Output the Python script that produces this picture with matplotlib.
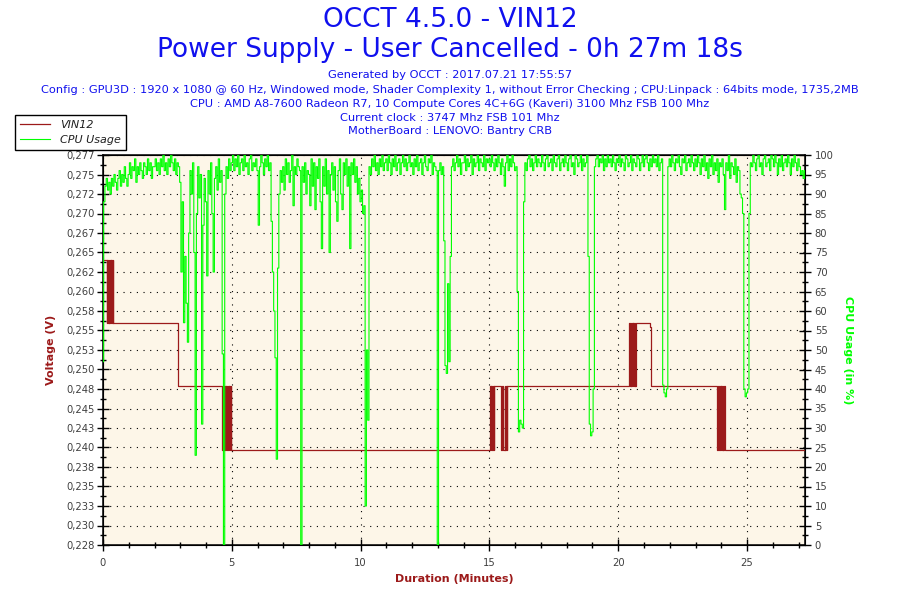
import numpy as np
import matplotlib
matplotlib.use("Agg")
from matplotlib import pyplot as plt
from matplotlib.ticker import FixedLocator, MultipleLocator, FuncFormatter

# header texts
title_main = "OCCT 4.5.0 - VIN12"
title_sub = "Power Supply - User Cancelled - 0h 27m 18s"
info_lines = [
    "Generated by OCCT : 2017.07.21 17:55:57",
    "Config : GPU3D : 1920 x 1080 @ 60 Hz, Windowed mode, Shader Complexity 1, without Error Checking ; CPU:Linpack : 64bits mode, 1735,2MB",
    "CPU : AMD A8-7600 Radeon R7, 10 Compute Cores 4C+6G (Kaveri) 3100 Mhz FSB 100 Mhz",
    "Current clock : 3747 Mhz FSB 101 Mhz",
    "MotherBoard : LENOVO: Bantry CRB",
]

# VIN12 readings (minutes, volts), held until the next change
vin_time = [0.05, 0.14, 0.16, 0.20, 0.22, 0.25, 0.27, 0.30, 0.32, 0.35, 0.37, 0.40,
            2.91,
            4.63, 4.65, 4.70, 4.72, 4.76, 4.78, 4.82, 4.84, 4.88, 4.90, 4.93, 4.95, 4.98,
            15.03, 15.06, 15.08, 15.11, 15.13, 15.16, 15.18,
            15.44, 15.50, 15.52, 15.60, 15.62, 15.66, 15.68, 15.70,
            20.43, 20.45, 20.48, 20.50, 20.53, 20.56, 20.59, 20.62, 20.65, 20.67, 20.70,
            21.22, 21.26,
            23.84, 23.86, 23.93, 23.95, 23.98, 24.00, 24.03, 24.05, 24.08, 24.10, 24.13,
            27.25]
vin_volts = [0.264, 0.256, 0.264, 0.256, 0.264, 0.256, 0.264, 0.256, 0.264, 0.256, 0.264, 0.256,
             0.248,
             0.240, 0.248, 0.240, 0.248, 0.240, 0.248, 0.240, 0.248, 0.240, 0.248, 0.240, 0.248, 0.240,
             0.248, 0.240, 0.248, 0.240, 0.248, 0.240, 0.248,
             0.240, 0.248, 0.240, 0.248, 0.240, 0.248, 0.240, 0.248,
             0.256, 0.248, 0.256, 0.248, 0.256, 0.248, 0.256, 0.248, 0.256, 0.248, 0.256,
             0.2555, 0.248,
             0.240, 0.248, 0.240, 0.248, 0.240, 0.248, 0.240, 0.248, 0.240, 0.248, 0.240,
             0.240]

# CPU usage (%), one reading every 0.05 minute, each row = one minute
cpu_step = 0.05
cpu_usage = [
    47, 88, 92, 94, 91, 93, 90, 94, 92, 95, 93, 91, 94, 96, 92, 95, 93, 97, 94, 92,
    95, 98, 94, 97, 96, 99, 93, 97, 95, 98, 96, 94, 98, 97, 95, 99, 96, 98, 94, 97,
    97, 99, 96, 98, 95, 99, 97, 100, 96, 98, 95, 99, 97, 100, 98, 96, 99, 95, 98, 97,
    93, 70, 88, 57, 74, 62, 52, 80, 96, 90, 98, 75, 23, 85, 97, 89, 95, 31, 82, 94,
    88, 69, 96, 90, 98, 85, 70, 94, 97, 91, 99, 93, 96, 49, 0, 90, 97, 94, 99, 96,
    98, 100, 96, 99, 97, 100, 95, 98, 99, 96, 100, 97, 98, 95, 99, 100, 96, 98, 97, 99,
    96, 82, 97, 100, 98, 95, 99, 97, 100, 96, 98, 83, 70, 60, 48, 22, 71, 90, 96, 93,
    97, 91, 99, 95, 98, 93, 96, 100, 87, 97, 95, 99, 97, 96, 0, 97, 93, 98, 90, 96,
    95, 87, 99, 92, 98, 86, 97, 94, 99, 88, 76, 97, 92, 99, 90, 96, 75, 95, 98, 91,
    97, 88, 83, 96, 99, 90, 86, 98, 95, 99, 92, 97, 76, 98, 95, 99, 93, 97, 90, 94,
    88, 91, 85, 87, 10, 50, 32, 97, 95, 99, 97, 100, 96, 98, 95, 99, 97, 100, 96, 98,
    99, 96, 100, 98, 95, 99, 97, 100, 96, 98, 99, 95, 98, 100, 97, 99, 96, 98, 100, 97,
    98, 95, 99, 97, 100, 96, 98, 99, 95, 98, 100, 97, 96, 99, 98, 100, 95, 98, 97, 96,
    0, 96, 98, 95, 97, 78, 46, 44, 67, 47, 74, 97, 99, 96, 98, 100, 97, 99, 95, 98,
    98, 100, 96, 99, 97, 98, 100, 95, 99, 97, 98, 100, 96, 99, 98, 97, 100, 96, 99, 98,
    99, 97, 100, 98, 96, 99, 97, 100, 98, 95, 99, 97, 92, 98, 100, 96, 99, 97, 100, 98,
    96, 97, 65, 29, 32, 31, 30, 88, 98, 96, 99, 100, 97, 99, 96, 98, 100, 97, 99, 98,
    97, 100, 98, 96, 99, 100, 97, 98, 99, 96, 100, 98, 97, 99, 100, 96, 98, 99, 97, 100,
    98, 96, 99, 100, 97, 98, 95, 100, 99, 97, 98, 100, 96, 99, 97, 98, 100, 74, 31, 28,
    29, 40, 97, 99, 100, 97, 99, 98, 100, 96, 99, 97, 100, 98, 99, 97, 100, 98, 96, 99,
    98, 100, 97, 99, 98, 96, 100, 99, 97, 98, 100, 96, 99, 98, 97, 100, 99, 96, 98, 100,
    97, 99, 100, 98, 96, 99, 97, 100, 98, 99, 97, 100, 96, 98, 99, 41, 39, 38, 40, 97,
    99, 97, 100, 98, 96, 99, 98, 100, 97, 95, 99, 98, 100, 96, 98, 99, 97, 100, 98, 96,
    99, 97, 100, 98, 95, 99, 97, 100, 96, 98, 94, 99, 97, 100, 95, 98, 96, 99, 93, 98,
    97, 99, 95, 86, 98, 96, 100, 94, 98, 97, 95, 99, 93, 97, 96, 90, 89, 85, 40, 38,
    39, 40, 85, 98, 97, 100, 98, 96, 99, 100, 97, 98, 95, 99, 100, 97, 98, 99, 96, 100,
    99, 97, 100, 98, 95, 99, 97, 100, 96, 98, 99, 97, 100, 98, 95, 99, 97, 100, 98, 96,
    99, 97, 95, 96, 94, 96,
]

v_min, v_max = 0.228, 0.2772
t_max = 27.25

red = '#9c1a1a'
green = '#00ff00'
blue = '#1010ee'
bg = '#fdf6e8'
tickcol = '#404040'

plt.rcParams['font.family'] = ['DejaVu Sans']

fig = plt.figure(figsize=(9, 6), dpi=100)
fig.patch.set_facecolor('white')
ax = fig.add_axes([103/900, 55/600, 702/900, 390/600])
ax.set_facecolor(bg)

# header
fig.text(0.5, 1 - 20/600, title_main, ha='center', va='center', color=blue, fontsize=19)
fig.text(0.5, 1 - 50/600, title_sub, ha='center', va='center', color=blue, fontsize=19)
for i, line in enumerate(info_lines):
    y = [75, 90, 104, 118, 131][i]
    fig.text(0.5, 1 - y/600, line, ha='center', va='center', color=blue, fontsize=8.2)

# voltage
l1, = ax.plot(vin_time, vin_volts, color=red, lw=0.9, drawstyle='steps-post', label='VIN12', zorder=3)
ax.set_xlim(0, t_max)
ax.set_ylim(v_min, v_max)

vticks = np.linspace(v_min, v_max, 21)
ax.yaxis.set_major_locator(FixedLocator(vticks))
ax.yaxis.set_minor_locator(FixedLocator((vticks[:-1] + vticks[1:]) / 2))
ax.yaxis.set_major_formatter(FuncFormatter(lambda v, p: ("%.3f" % v).replace('.', ',')))
ax.xaxis.set_major_locator(MultipleLocator(5))
ax.xaxis.set_minor_locator(MultipleLocator(1))
ax.tick_params(which='major', direction='inout', length=8, width=1, colors='black',
               labelcolor=tickcol, labelsize=7.2)
ax.tick_params(axis='y', which='major', pad=2)
ax.tick_params(axis='x', which='major', pad=5)
ax.tick_params(which='minor', direction='inout', length=5, width=1, colors='black')
ax.grid(True, which='major', color='black', lw=0.8, linestyle=(0, (1, 5)))
for s in ax.spines.values():
    s.set_linewidth(1.1)

ax.set_xlabel('Duration (Minutes)', color=red, fontsize=8, fontweight='bold', labelpad=5)
ax.set_ylabel('Voltage (V)', color=red, fontsize=8, fontweight='bold', labelpad=7)

# cpu usage
ax2 = ax.twinx()
cpu_time = np.arange(len(cpu_usage)) * cpu_step
l2, = ax2.plot(cpu_time, cpu_usage, color=green, lw=0.8, drawstyle='steps-mid',
               label='CPU Usage', zorder=4)
ax2.set_ylim(0, 100)
ax2.yaxis.set_major_locator(MultipleLocator(5))
ax2.yaxis.set_minor_locator(MultipleLocator(2.5))
ax2.tick_params(which='major', direction='inout', length=8, width=1, colors='black',
                labelcolor=tickcol, labelsize=7.2, pad=3)
ax2.tick_params(which='minor', direction='inout', length=5, width=1, colors='black')
ax2.set_ylabel('CPU Usage (in %)', color=green, fontsize=8, fontweight='bold',
               rotation=270, labelpad=14)
ax.set_zorder(1)
ax2.set_zorder(2)
ax2.patch.set_visible(False)

leg = fig.legend([l1, l2], ['VIN12', 'CPU Usage'], loc='upper left',
                 bbox_to_anchor=(15/900, 1 - 115/600), fancybox=False, edgecolor='black',
                 framealpha=1, prop={'style': 'italic', 'size': 8}, handlelength=2.7,
                 handletextpad=0.9, borderpad=0.45, labelspacing=0.45, borderaxespad=0)
leg.get_frame().set_linewidth(1)
for t in leg.get_texts():
    t.set_color('#202020')

fig.savefig('out.png', dpi=100)
